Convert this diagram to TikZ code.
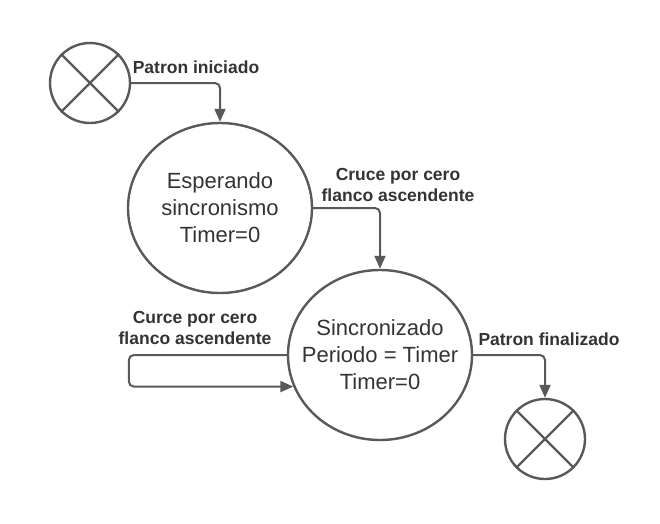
\documentclass[tikz,border=0pt]{standalone}
\usepackage{fontspec}
\setmainfont{Liberation Sans}
\usetikzlibrary{arrows.meta,shapes.geometric}
\definecolor{ln}{HTML}{595959}
\definecolor{tx}{HTML}{333333}
\begin{document}
\begin{tikzpicture}[x=1pt,y=-1pt,
  state/.style={ellipse,draw=ln,line width=2.4pt,minimum width=184pt,minimum height=170pt,
    inner xsep=-25pt,inner ysep=0pt,
    align=center,text=tx,font=\fontsize{22}{27}\selectfont},
  term/.style={circle,draw=ln,line width=2.4pt,minimum size=80pt,inner sep=0pt},
  xline/.style={draw=ln,line width=2.4pt},
  conn/.style={draw=ln,line width=2pt,rounded corners=5pt,-{Triangle[length=13pt,width=11pt]}},
  lbl/.style={text=tx,align=center,font=\fontsize{17.5}{21}\selectfont\bfseries}]
\useasboundingbox (0,0) rectangle (660,523);
\node[term] (start) at (90,83) {};
\node[state] (s1) at (220,208) {Esperando\\sincronismo\\Timer=0};
\node[state] (s2) at (380,355) {Sincronizado\\Periodo = Timer\\Timer=0};
\node[term] (stop) at (545,439) {};
\draw[xline] (start.45) -- (start.225) (start.135) -- (start.315);
\draw[xline] (stop.45) -- (stop.225) (stop.135) -- (stop.315);
\draw[conn] (start.east) -| (s1.north);
\draw[conn] (s1.east) -| (s2.north);
\draw[conn] (s2.east) -| (stop.north);
\draw[conn] (s2.west) -- ++(-158,0) |- (s2.200);
\node[lbl] (l1) at (196,67) {Patron iniciado};
\node[lbl] (l2) at (398,185) {Cruce por cero\\flanco ascendente};
\node[lbl] (l3) at (195,328) {Curce por cero\\flanco ascendente};
\node[lbl] (l4) at (549,339) {Patron finalizado};
\end{tikzpicture}
\end{document}
